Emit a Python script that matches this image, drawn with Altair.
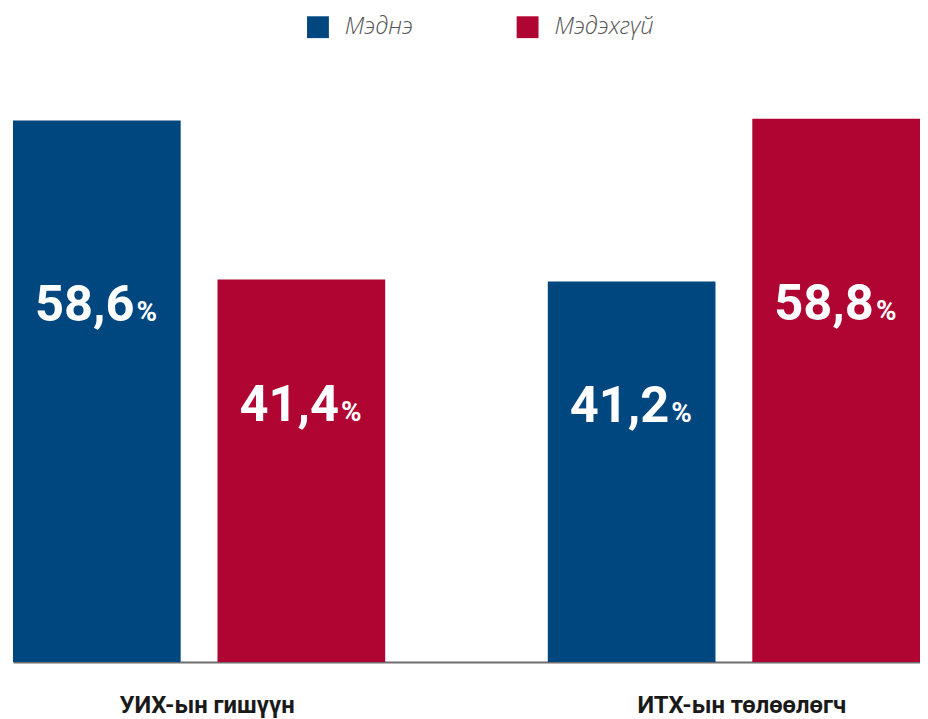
import altair as alt
import pandas as pd

groups = ["УИХ-ын гишүүн", "ИТХ-ын төлөөлөгч"]
series = ["Мэднэ", "Мэдэхгүй"]
know = [58.6, 41.2]
dont_know = [41.4, 58.8]
colors = ["#00467F", "#B00532"]

rows = []
for i, g in enumerate(groups):
    rows.append({"group": g, "series": series[0], "value": know[i]})
    rows.append({"group": g, "series": series[1], "value": dont_know[i]})
df = pd.DataFrame(rows)

COND = "Roboto, sans-serif"

x = alt.X(
    "group:N", sort=groups, title=None,
    scale=alt.Scale(paddingInner=0.304, paddingOuter=0),
    axis=alt.Axis(labelAngle=0, ticks=False, domainColor="#6d6d6d", domainWidth=2,
                  labelFont=COND, labelFontSize=24, labelFontWeight="bold",
                  labelColor="#1a1a1a", labelPadding=32, labelOffset=8,
                  grid=False, labelLimit=500),
)
xo = alt.XOffset("series:N", sort=series,
                 scale=alt.Scale(paddingInner=0.18, paddingOuter=0))
ysc = alt.Scale(domain=[0, 60], nice=False)
y = alt.Y("value:Q", scale=ysc, axis=None)

base = alt.Chart(df)

bars = base.mark_bar().encode(
    x=x, xOffset=xo, y=y,
    color=alt.Color("series:N", sort=series,
                    scale=alt.Scale(domain=series, range=colors),
                    legend=alt.Legend(
                        title=None, orient="none", direction="horizontal",
                        legendX=295, legendY=-93, padding=0,
                        symbolType="square", symbolSize=484, symbolStrokeWidth=0,
                        symbolOpacity=1,
                        labelFont="Open Sans", labelFontStyle="italic",
                        labelFontWeight=300, labelFontSize=24, labelColor="#555555",
                        labelOffset=15, columnPadding=71, gridAlign="all",
                        labelLimit=300)),
)

lab = base.transform_calculate(
    txt="replace(format(datum.value, '.1f'), '.', ',')",
    ly="datum.value * 0.63",
)

nums = lab.mark_text(font=COND, fontSize=51, fontWeight="bold", color="white",
                     align="right", baseline="alphabetic", dx=38).encode(
    x=x, xOffset=xo, y=alt.Y("ly:Q", scale=ysc, axis=None),
    text="txt:N",
)
pcts = lab.mark_text(font=COND, fontSize=28, fontWeight="bold", color="white",
                     align="left", baseline="alphabetic", dx=40).encode(
    x=x, xOffset=xo, y=alt.Y("ly:Q", scale=ysc, axis=None),
    text=alt.value("%"),
)

chart = alt.layer(bars, nums, pcts).properties(
    width=913, height=558,
    autosize=alt.AutoSizeParams(type="none"),
    padding={"left": 5, "top": 98, "right": 0, "bottom": 54},
).configure_view(stroke=None).configure_axis(grid=False)

chart.save("out.html", embed_options={"renderer": "svg", "actions": False})
